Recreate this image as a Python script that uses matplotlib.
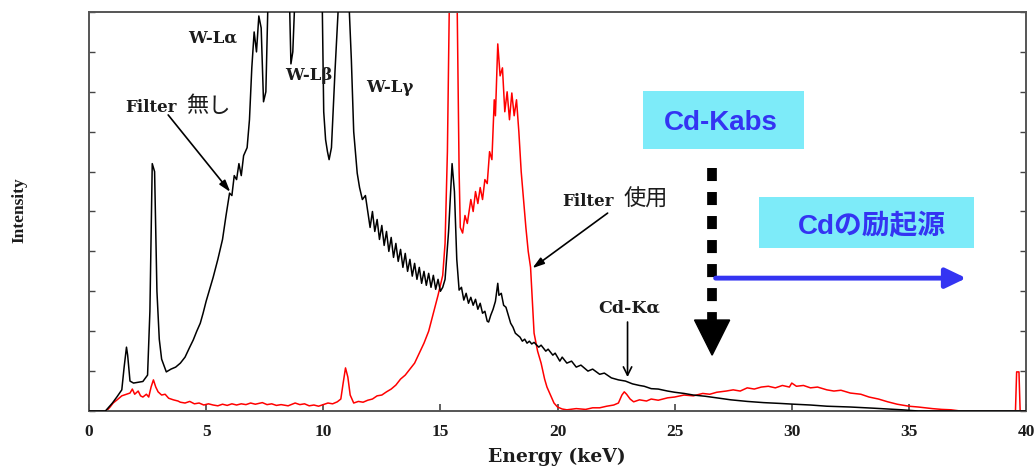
import matplotlib
matplotlib.use("Agg")
import matplotlib.pyplot as plt
from matplotlib.patches import Rectangle

# spectrum without filter (black)
E_nofilter = [0.0, 0.7, 1.0, 1.2, 1.4, 1.5, 1.6, 1.65, 1.75, 1.9, 2.1, 2.3, 2.5, 2.6, 2.7, 2.8,
              2.9, 3.0, 3.1, 3.3, 3.5, 3.7, 3.9, 4.1, 4.3, 4.45, 4.6, 4.75, 4.87, 5.0, 5.1, 5.3,
              5.5, 5.6, 5.7, 5.85, 6.0, 6.1, 6.2, 6.3, 6.4, 6.5, 6.6, 6.75, 6.85, 6.95, 7.05,
              7.15, 7.25, 7.35, 7.45, 7.55, 7.65, 8.4, 8.55, 8.62, 8.7, 8.8, 9.3, 9.95, 10.02,
              10.1, 10.18, 10.25, 10.35, 10.5, 10.65, 11.0, 11.1, 11.2, 11.3, 11.45, 11.55,
              11.67, 11.8, 11.9, 12.0, 12.1, 12.2, 12.3, 12.4, 12.5, 12.6, 12.7, 12.8, 12.9,
              13.0, 13.1, 13.2, 13.3, 13.4, 13.5, 13.6, 13.7, 13.8, 13.9, 14.0, 14.1, 14.2,
              14.3, 14.4, 14.5, 14.6, 14.7, 14.8, 14.9, 15.0, 15.1, 15.2, 15.35, 15.5, 15.6,
              15.7, 15.8, 15.9, 16.0, 16.1, 16.2, 16.3, 16.4, 16.5, 16.6, 16.7, 16.8, 16.9,
              17.0, 17.06, 17.15, 17.25, 17.35, 17.45, 17.5, 17.6, 17.7, 17.8, 17.9, 18.0,
              18.1, 18.2, 18.3, 18.4, 18.5, 18.6, 18.7, 18.8, 18.9, 19.0, 19.2, 19.3, 19.5,
              19.6, 19.8, 19.9, 20.1, 20.2, 20.4, 20.6, 20.8, 21.0, 21.3, 21.5, 21.8, 22.0,
              22.3, 22.6, 22.9, 23.2, 23.5, 23.7, 24.0, 24.3, 24.7, 25.0, 25.4, 25.8, 26.3,
              26.8, 27.4, 28.1, 28.8, 29.5, 30.1, 30.8, 31.5, 32.5, 33.5, 34.7, 35.4, 40.0]
I_nofilter = [0.0, 0.0, 0.2, 0.36, 0.53, 1.1, 1.6, 1.4, 0.75, 0.7, 0.72, 0.74, 0.9, 2.5, 6.2, 6.0,
              3.0, 1.8, 1.3, 0.98, 1.05, 1.1, 1.2, 1.35, 1.6, 1.78, 2.0, 2.2, 2.45, 2.75, 2.95,
              3.35, 3.8, 4.05, 4.3, 4.9, 5.46, 5.4, 5.9, 5.8, 6.2, 5.9, 6.4, 6.6, 7.3, 8.6, 9.5,
              9.0, 9.9, 9.6, 7.75, 8.0, 10.5, 12.0, 10.5, 8.7, 9.0, 10.5, 11.0, 10.5, 7.5,
              6.8, 6.5, 6.3, 6.6, 8.5, 10.2, 11.5, 10.2, 8.8, 7.0, 5.96, 5.6, 5.3, 5.4, 5.0,
              4.6, 5.0, 4.5, 4.8, 4.3, 4.65, 4.15, 4.5, 4.0, 4.35, 3.85, 4.2, 3.75, 4.05, 3.6,
              3.95, 3.5, 3.8, 3.38, 3.7, 3.3, 3.6, 3.2, 3.5, 3.15, 3.45, 3.1, 3.4, 3.05, 3.3,
              3.0, 3.1, 3.3, 4.5, 6.2, 5.5, 3.8, 3.03, 3.1, 2.78, 2.95, 2.7, 2.85, 2.65, 2.8,
              2.55, 2.7, 2.45, 2.5, 2.25, 2.23, 2.4, 2.55, 2.75, 3.2, 2.9, 2.95, 2.65, 2.6, 2.4,
              2.2, 2.1, 1.95, 1.9, 1.85, 1.75, 1.8, 1.7, 1.75, 1.68, 1.72, 1.6, 1.65, 1.5, 1.55,
              1.4, 1.45, 1.25, 1.35, 1.2, 1.25, 1.1, 1.15, 1.0, 1.05, 0.92, 0.95, 0.83, 0.78,
              0.75, 0.68, 0.64, 0.62, 0.56, 0.55, 0.5, 0.47, 0.44, 0.4, 0.37, 0.33, 0.28, 0.24,
              0.21, 0.19, 0.17, 0.15, 0.12, 0.1, 0.07, 0.03, 0.0, 0.0]

# spectrum with filter (red)
E_filter = [0.0, 0.75, 0.9, 1.03, 1.2, 1.4, 1.6, 1.75, 1.85, 1.95, 2.1, 2.2, 2.3, 2.45, 2.55, 2.65,
            2.75, 2.85, 2.95, 3.1, 3.25, 3.4, 3.6, 3.8, 3.9, 4.1, 4.3, 4.5, 4.7, 4.9, 5.1, 5.3,
            5.5, 5.7, 5.9, 6.1, 6.3, 6.5, 6.7, 6.9, 7.1, 7.4, 7.6, 7.8, 8.0, 8.2, 8.5, 8.8, 9.0,
            9.2, 9.4, 9.6, 9.8, 10.0, 10.2, 10.4, 10.6, 10.75, 10.85, 10.95, 11.05, 11.15, 11.3,
            11.5, 11.7, 11.9, 12.1, 12.3, 12.5, 12.7, 12.9, 13.1, 13.3, 13.5, 13.7, 13.9, 14.1,
            14.3, 14.5, 14.7, 14.9, 15.1, 15.2, 15.3, 15.4, 15.7, 15.8, 15.85, 15.95, 16.05,
            16.15, 16.3, 16.4, 16.5, 16.6, 16.7, 16.8, 16.9, 17.0, 17.1, 17.2, 17.3, 17.35,
            17.45, 17.55, 17.65, 17.75, 17.85, 17.95, 18.05, 18.15, 18.25, 18.35, 18.45, 18.55,
            18.65, 18.75, 18.85, 19.0, 19.15, 19.3, 19.45, 19.55, 19.7, 19.85, 20.0, 20.2, 20.4,
            20.8, 21.2, 21.5, 21.8, 22.1, 22.4, 22.6, 22.75, 22.85, 22.95, 23.1, 23.25, 23.5,
            23.8, 24.0, 24.3, 24.7, 25.0, 25.4, 25.8, 26.2, 26.5, 26.8, 27.2, 27.5, 27.8, 28.1,
            28.4, 28.7, 29.0, 29.3, 29.6, 29.9, 30.0, 30.2, 30.5, 30.8, 31.1, 31.5, 31.8, 32.1,
            32.5, 32.95, 33.3, 33.7, 34.1, 34.5, 35.0, 35.4, 36.0, 36.4, 36.8, 37.2, 39.55,
            39.6, 39.7, 39.75, 40.0]
I_filter = [0.0, 0.0, 0.1, 0.2, 0.28, 0.38, 0.42, 0.45, 0.55, 0.42, 0.5, 0.38, 0.35, 0.42, 0.35,
            0.6, 0.78, 0.6, 0.48, 0.4, 0.42, 0.32, 0.28, 0.25, 0.22, 0.2, 0.24, 0.18, 0.2, 0.15,
            0.18, 0.15, 0.13, 0.17, 0.14, 0.18, 0.15, 0.18, 0.16, 0.2, 0.17, 0.21, 0.16, 0.18,
            0.14, 0.16, 0.13, 0.2, 0.16, 0.18, 0.13, 0.15, 0.12, 0.16, 0.2, 0.18, 0.23, 0.3,
            0.7, 1.08, 0.85, 0.4, 0.2, 0.24, 0.22, 0.27, 0.3, 0.38, 0.4, 0.48, 0.55, 0.65, 0.8,
            0.9, 1.05, 1.2, 1.45, 1.7, 2.0, 2.45, 2.9, 3.4, 4.2, 6.5, 11.0, 11.0, 6.0, 4.6,
            4.46, 4.9, 4.7, 5.3, 5.0, 5.5, 5.2, 5.6, 5.3, 5.8, 5.7, 6.5, 6.3, 7.8, 7.4, 9.2,
            8.4, 8.6, 7.5, 8.0, 7.3, 7.97, 7.4, 7.8, 7.0, 6.0, 5.3, 4.6, 4.0, 3.6, 1.95, 1.5,
            1.2, 0.8, 0.6, 0.4, 0.2, 0.1, 0.05, 0.03, 0.06, 0.04, 0.08, 0.08, 0.12, 0.15, 0.2,
            0.4, 0.48, 0.42, 0.3, 0.23, 0.28, 0.25, 0.3, 0.27, 0.33, 0.35, 0.4, 0.38, 0.44,
            0.42, 0.47, 0.5, 0.53, 0.5, 0.58, 0.55, 0.6, 0.62, 0.58, 0.64, 0.6, 0.7, 0.62, 0.64,
            0.58, 0.6, 0.53, 0.5, 0.52, 0.45, 0.42, 0.35, 0.3, 0.23, 0.17, 0.12, 0.1, 0.06,
            0.04, 0.03, 0.0, 0.0, 0.98, 0.98, 0.0, 0.0]

x_ticks = [0, 5, 10, 15, 20, 25, 30, 35, 40]
CD_KABS = 26.6   # Cd K absorption edge (keV)

serif = "DejaVu Serif"
jp = "Noto Sans CJK JP"
sans_jp = ["Liberation Sans", "Noto Sans CJK JP"]
blue = "#3434F2"
cyan = "#7DEBF9"
ink = "#1c1c1c"

fig = plt.figure(figsize=(10.35, 4.67), dpi=100)
ax = fig.add_axes([89 / 1035, 1 - 411 / 467, 937 / 1035, 399 / 467])

ax.plot(E_filter, I_filter, color="red", lw=1.1, zorder=2)
ax.plot(E_nofilter, I_nofilter, color="black", lw=1.1, zorder=3)

ax.set_xlim(0, 40)
ax.set_ylim(0, 10)
ax.set_xticks(x_ticks)
ax.set_xticklabels([str(t) for t in x_ticks], family="Liberation Serif",
                   fontweight="bold", fontsize=12.5, color=ink)
ax.set_yticks(range(11))
ax.set_yticklabels([])
ax.tick_params(axis="x", direction="in", length=5, width=1.2, pad=9, colors="#444444",
               labelcolor=ink)
ax.tick_params(axis="y", direction="in", length=4, width=1.0, left=True, right=True,
               colors="#444444")
for s in ax.spines.values():
    s.set_color("#555555")
    s.set_linewidth(1.4)

ax.set_xlabel("Energy (keV)", family=serif, fontweight="bold", fontsize=13.5, color=ink)
ax.xaxis.set_label_coords(0.4995, -0.092)
ax.set_ylabel("Intensity", family="Liberation Serif", fontweight="bold", fontsize=12.5,
              color=ink)
ax.yaxis.set_label_coords(-0.066, 0.504)

# peak labels
lab = dict(family=serif, fontweight="bold", color=ink, ha="center", va="center")
ax.text(5.26, 9.35, "W-Lα", fontsize=12, **lab)
ax.text(9.4, 8.42, "W-Lβ", fontsize=12, **lab)
ax.text(12.86, 8.1, "W-Lγ", fontsize=12, **lab)
ax.text(23.08, 2.58, "Cd-Kα", fontsize=12.5, **lab)

# "Filter" captions: latin part and japanese part share a baseline
for x_lat, x_jp, base, jp_text in [(1.54, 4.15, 7.49, "無し"), (20.21, 22.82, 5.14, "使用")]:
    ax.text(x_lat, base, "Filter", family=serif, fontweight="bold", fontsize=12,
            color=ink, ha="left", va="baseline")
    ax.text(x_jp, base, jp_text, family=jp, fontsize=16, color=ink, ha="left",
            va="baseline")

thin = dict(arrowstyle="-|>,head_length=0.7,head_width=0.22", color="black", lw=1.2,
            shrinkA=0, shrinkB=0)
ax.annotate("", xy=(6.03, 5.49), xytext=(3.38, 7.42), arrowprops=thin)
ax.annotate("", xy=(18.93, 3.58), xytext=(22.14, 4.96), arrowprops=thin)
ax.annotate("", xy=(22.99, 0.85), xytext=(22.99, 2.23),
            arrowprops=dict(arrowstyle="->,head_length=0.6,head_width=0.3", color="black",
                            lw=1.2, shrinkA=0, shrinkB=0))

# absorption edge marker
ax.plot([CD_KABS, CD_KABS], [6.09, 2.28], color="black", lw=7, dashes=(1.34, 1.13),
        solid_capstyle="butt", zorder=4)
ax.fill([CD_KABS - 0.75, CD_KABS + 0.75, CD_KABS], [2.28, 2.28, 1.4], color="black", zorder=4)

# excitation range arrow
ax.annotate("", xy=(37.45, 3.33), xytext=(CD_KABS + 0.15, 3.33),
            arrowprops=dict(arrowstyle="-|>,head_length=1.25,head_width=0.6", color=blue,
                            lw=3.5, shrinkA=0, shrinkB=0), zorder=4)

# highlighted boxes
ax.add_patch(Rectangle((23.63, 6.57), 6.88, 1.45, facecolor=cyan, edgecolor="none", zorder=5))
ax.add_patch(Rectangle((28.59, 4.09), 9.19, 1.27, facecolor=cyan, edgecolor="none", zorder=5))
box = dict(color=blue, fontweight="bold", fontsize=20, ha="center", va="center", zorder=6)
ax.text(26.97, 7.22, "Cd-Kabs", family=sans_jp, **box)
ax.text(33.42, 4.62, "Cdの励起源", family=sans_jp, **box)

fig.savefig("out.png", dpi=100)
